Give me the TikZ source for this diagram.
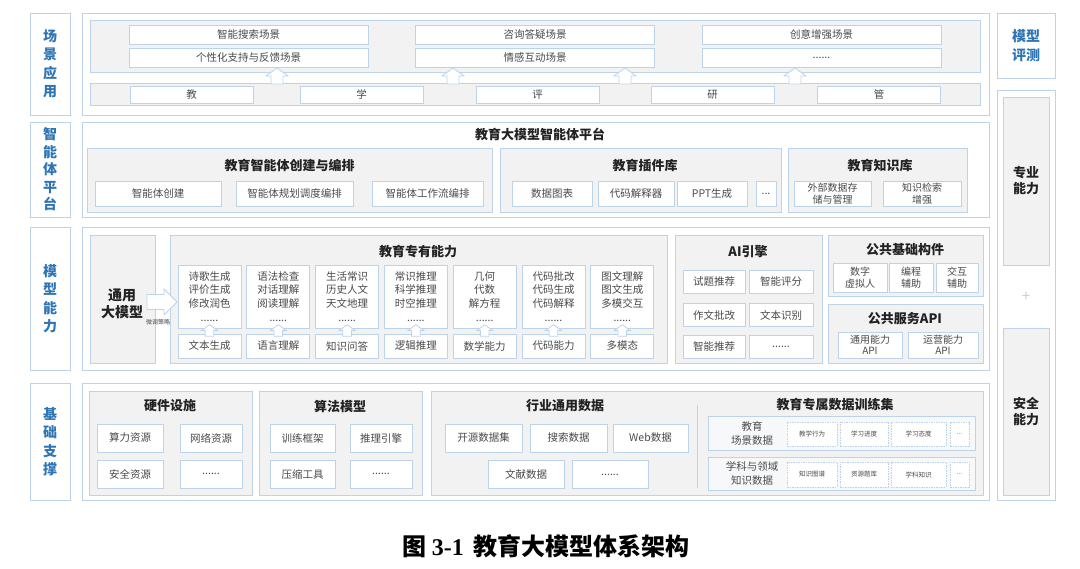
\documentclass[tikz,border=0pt]{standalone}
\usepackage{fontspec}
\setmainfont{Noto Sans CJK SC}
\newfontfamily\capnum{Liberation Serif}
\definecolor{cline}{HTML}{BDD3EA}
\definecolor{cpanel}{HTML}{F2F2F2}
\definecolor{csub}{HTML}{F7F8FA}
\definecolor{clabel}{HTML}{2F75B5}
\definecolor{ctext}{HTML}{4A4A4A}
\definecolor{cdark}{HTML}{222222}
\newcommand{\dotsix}{......}
\newcommand{\dotthree}{...}
\tikzset{
  every picture/.style={line width=0.8pt},
  sz/.style 2 args={minimum width=#1pt, minimum height=#2pt},
  lay/.style={draw=cline, fill=white, inner sep=0pt},
  grp/.style={draw=cline, fill=cpanel, inner sep=0pt},
  sub/.style={draw=cline, fill=csub, inner sep=0pt},
  cell/.style={draw=cline, fill=white, inner sep=0pt, align=center, text=ctext, font=\fontsize{10.5}{13.5}\selectfont},
  dcell/.style={cell, dash pattern=on 1.5pt off 1pt, font=\fontsize{6.5}{8}\selectfont},
  tag/.style={lay, align=center, text=clabel, font=\fontsize{14}{18.5}\selectfont\bfseries},
  ttl/.style={text=cdark, font=\fontsize{13}{15}\selectfont\bfseries},
  hollow/.style={draw=cline, fill=white, line width=0.8pt},
  upar/.pic={\draw[hollow] (-6,8) -- (-6,0) -- (-11,0) -- (0,-8) -- (11,0) -- (6,0) -- (6,8) -- cycle;},
  rtar/.pic={\draw[hollow] (-15,-7.5) -- (2,-7.5) -- (2,-13) -- (15,0) -- (2,13) -- (2,7.5) -- (-15,7.5) -- cycle;},
}
\begin{document}
\begin{tikzpicture}[x=1pt, y=-1pt]
  \useasboundingbox (0,0) rectangle (1080,569);
  \node[tag, sz={40}{102}] (t1) at (50,64) {场\\景\\应\\用};
  \node[tag, sz={40}{95}, font=\fontsize{14}{17.5}\selectfont\bfseries] (t2) at (50,169.5) {智\\能\\体\\平\\台};
  \node[tag, sz={40}{143}] (t3) at (50,298.5) {模\\型\\能\\力};
  \node[tag, sz={40}{117}] (t4) at (50,441.5) {基\\础\\支\\撑};
  % scenarios
  \node[lay, sz={907}{102}] (l1) at (535.5,64) {};
  \node[grp, sz={890}{52}] (scn) at (535,46) {};
  \foreach \a/\b [count=\i from 0] in {智能搜索场景/个性化支持与反馈场景, 咨询答疑场景/情感互动场景, 创意增强场景/\dotsix} {
    \node[cell, sz={239}{19}] (sa\i) at (248.5+286.5*\i,34.5) {\a};
    \node[cell, sz={239}{19}] (sb\i) at (248.5+286.5*\i,57.5) {\b};
  }
  \node[grp, sz={890}{22}] (stg) at (535,94) {};
  \foreach \t/\x [count=\i] in {教/191.5, 学/361.5, 评/537.5, 研/712.5, 管/879}
    \node[cell, sz={123}{17}] (st\i) at (\x,94.5) {\t};
  \foreach \x [count=\i] in {277,453,625,795}
    \pic (ua\i) at (\x,76) {upar};
  % platform
  \node[lay, sz={907}{95}] (l2) at (535.5,169.5) {};
  \node[ttl] (plat) at (540,134) {教育大模型智能体平台};
  \node[grp, sz={405}{64}] (g21) at (289.5,180) {};
  \node[ttl] (g21t) at (289.5,165) {教育智能体创建与编排};
  \foreach \t/\x/\w [count=\i] in {智能体创建/158/126, 智能体规划调度编排/294.5/117, 智能体工作流编排/427.5/111}
    \node[cell, sz={\w}{25}] (ag\i) at (\x,193.5) {\t};
  \node[grp, sz={281}{64}] (g22) at (640.5,180) {};
  \node[ttl] (g22t) at (645,165) {教育插件库};
  \foreach \t/\x/\w [count=\i] in {数据图表/552/80, 代码解释器/636/76, PPT生成/712/70, \dotthree/766/20}
    \node[cell, sz={\w}{25}] (pl\i) at (\x,193.5) {\t};
  \node[grp, sz={179}{64}] (g23) at (877.5,180) {};
  \node[ttl] (g23t) at (880,165) {教育知识库};
  \node[cell, sz={77}{25}, font=\fontsize{10}{11.5}\selectfont] (kb1) at (832.5,193.5) {外部数据存\\储与管理};
  \node[cell, sz={78}{25}, font=\fontsize{10}{11.5}\selectfont] (kb2) at (922,193.5) {知识检索\\增强};
  % model abilities
  \node[lay, sz={907}{143}] (l3) at (535.5,298.5) {};
  \node[grp, sz={65}{128}] (gen) at (122.5,299) {};
  \node[ttl, align=center, font=\fontsize{14}{17}\selectfont\bfseries] (gent) at (122,304) {通用\\大模型};
  \node[grp, sz={497}{128}] (g32) at (418.5,299) {};
  \pic (ra) at (162,302) {rtar};
  \node[text=ctext, font=\fontsize{6}{7}\selectfont] (ft) at (158,322) {微调策略};
  \node[ttl] (g32t) at (418,252) {教育专有能力};
  \foreach \a/\b [count=\i from 0] in {诗歌生成\\评价生成\\修改润色/文本生成, 语法检查\\对话理解\\阅读理解/语言理解, 生活常识\\历史人文\\天文地理/知识问答, 常识推理\\科学推理\\时空推理/逻辑推理, 几何\\代数\\解方程/数学能力, 代码批改\\代码生成\\代码解释/代码能力, 图文理解\\图文生成\\多模交互/多模态} {
    \node[cell, sz={63}{63}] (ca\i) at (209.5+68.8*\i,296.5) {\a\\[1pt]\dotsix};
    \node[cell, sz={63}{24}] (cb\i) at (209.5+68.8*\i,346) {\b};
    \pic[scale=0.72] (cu\i) at (209.5+68.8*\i,330.5) {upar};
  }
  \node[grp, sz={147}{128}] (g33) at (748.5,299) {};
  \node[ttl] (g33t) at (748,252) {AI引擎};
  \foreach \a/\b/\y [count=\i] in {试题推荐/智能评分/281.5, 作文批改/文本识别/315, 智能推荐/\dotsix/346.5} {
    \node[cell, sz={62}{23}] (aia\i) at (714,\y) {\a};
    \node[cell, sz={64}{23}] (aib\i) at (781,\y) {\b};
  }
  \node[grp, sz={155}{61}] (g34) at (905.5,265.5) {};
  \node[ttl] (g34t) at (905,250) {公共基础构件};
  \foreach \t/\x/\w [count=\i] in {数字\\虚拟人/860/54, 编程\\辅助/911/44, 交互\\辅助/957/42}
    \node[cell, sz={\w}{29}, font=\fontsize{10}{12}\selectfont] (pc\i) at (\x,277.5) {\t};
  \node[grp, sz={155}{59}] (g35) at (905.5,333.5) {};
  \node[ttl] (g35t) at (905,319) {公共服务API};
  \foreach \t/\x/\w [count=\i] in {通用能力\\API/870/64, 运营能力\\API/943/70}
    \node[cell, sz={\w}{26}, font=\fontsize{10}{11.5}\selectfont] (ps\i) at (\x,345) {\t};
  % foundation
  \node[lay, sz={907}{117}] (l4) at (535.5,441.5) {};
  \node[grp, sz={163}{104}] (g41) at (170.5,443) {};
  \node[ttl] (g41t) at (170,406) {硬件设施};
  \foreach \t/\x/\y/\w [count=\i] in {算力资源/130/438/66, 网络资源/211/438/62, 安全资源/130/474/66, \dotsix/211/474/62}
    \node[cell, sz={\w}{28}] (hw\i) at (\x,\y) {\t};
  \node[grp, sz={163}{104}] (g42) at (340.5,443) {};
  \node[ttl] (g42t) at (340,406) {算法模型};
  \foreach \t/\x/\y/\w [count=\i] in {训练框架/302.5/438/65, 推理引擎/381/438/62, 压缩工具/302.5/474/65, \dotsix/381/474/62}
    \node[cell, sz={\w}{28}] (am\i) at (\x,\y) {\t};
  \node[grp, sz={552}{104}] (g43) at (707,443) {};
  \coordinate (sep1) at (697,405);
  \coordinate (sep2) at (697,488);
  \draw[cline] (sep1) -- (sep2);
  \node[ttl] (g43t) at (565,406) {行业通用数据};
  \foreach \t/\x/\y/\w [count=\i] in {开源数据集/483.5/438/77, 搜索数据/568.5/438/77, Web数据/650.5/438/75, 文献数据/526/474.5/76, \dotsix/610/474.5/76}
    \node[cell, sz={\w}{28}] (id\i) at (\x,\y) {\t};
  \node[ttl] (g44t) at (835,405) {教育专属数据训练集};
  \node[sub, sz={267}{34}] (pa1) at (841.5,433) {};
  \node[sub, sz={267}{33}] (pa2) at (841.5,473.5) {};
  \node[align=center, text=ctext, font=\fontsize{10.5}{14}\selectfont] (pa1t) at (752,433) {教育\\场景数据};
  \node[align=center, text=ctext, font=\fontsize{10.5}{14}\selectfont] (pa2t) at (752,473.5) {学科与领域\\知识数据};
  \foreach \t/\u/\x/\w [count=\i] in {教学行为/知识图谱/812/50, 学习进度/资源题库/864/48, 学习态度/学科知识/918.5/55, \dotthree/\dotthree/959.5/19} {
    \node[dcell, sz={\w}{24}] (da\i) at (\x,434) {\t};
    \node[dcell, sz={\w}{25}] (db\i) at (\x,474.5) {\u};
  }
  % right column
  \node[tag, sz={58}{65}] (rt) at (1026,45.5) {模型\\评测};
  \node[lay, sz={58}{410}] (rc) at (1026,295) {};
  \node[grp, sz={46}{168}, align=center, text=cdark, font=\fontsize{13}{16}\selectfont\bfseries] (pro) at (1026,181) {专业\\能力};
  \node[text=cline, font=\fontsize{15}{15}\selectfont] (plus) at (1026,297) {+};
  \node[grp, sz={46}{167}, align=center, text=cdark, font=\fontsize{13}{16}\selectfont\bfseries] (sec) at (1026,411.5) {安全\\能力};
  \node[text=black, font=\fontsize{24}{27}\selectfont\bfseries] (cap) at (546,546) {图 {\capnum 3-1}\hspace{0.4em}教育大模型体系架构};
\end{tikzpicture}
\end{document}
